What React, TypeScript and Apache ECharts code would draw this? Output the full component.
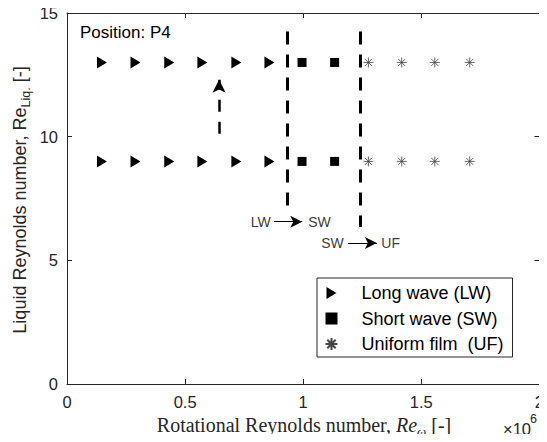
import React, { useEffect, useRef } from "react";
import * as echarts from "echarts";

// Rotational Reynolds number (x 10^6) for each regime
const lwRe: number[] = [0.148, 0.29, 0.433, 0.573, 0.717, 0.857];
const swRe: number[] = [0.995, 1.133];
const ufRe: number[] = [1.276, 1.417, 1.557, 1.705];
// Liquid Reynolds numbers tested
const liqRe: number[] = [13, 9];

// Transition boundaries (x) and their vertical extent (y from, y to)
const boundaryX: number[] = [0.932, 1.241];
const boundaryY: [number, number][] = [
  [7.05, 14.25],
  [6.35, 14.25],
];
// Dashed arrow showing increasing liquid Reynolds number
const upArrow: [number, number][] = [
  [0.644, 10.12],
  [0.644, 12.3],
];
// Transition annotation labels and arrows
const annotTexts: { name: string; value: [number, number] }[] = [
  { name: "LW", value: [0.82, 6.56] },
  { name: "SW", value: [1.069, 6.56] },
  { name: "SW", value: [1.124, 5.7] },
  { name: "UF", value: [1.37, 5.7] },
];
const annotArrows: [number, number][][] = [
  [
    [0.876, 6.56],
    [0.996, 6.56],
  ],
  [
    [1.19, 5.7],
    [1.312, 5.7],
  ],
];

const xTicks = { min: 0, max: 2, interval: 0.5 };
const yTicks = { min: 0, max: 15, interval: 5 };

const SANS = "Liberation Sans";
const SERIF = "Liberation Serif";
const AX = "#262626";

type Part = { text: string; family: string; size: number; italic?: boolean; sub?: boolean };
const xTitle: Part[] = [
  { text: "Rotational Reynolds number, ", family: SERIF, size: 20 },
  { text: "Re", family: SERIF, size: 20, italic: true },
  { text: "ω", family: SERIF, size: 13, italic: true, sub: true },
  { text: " [-]", family: SERIF, size: 20 },
];
const yTitle: Part[] = [
  { text: "Liquid Reynolds number, Re", family: SANS, size: 18 },
  { text: "Liq.", family: SANS, size: 12.5, sub: true },
  { text: " [-]", family: SANS, size: 18 },
];

function pairs(xs: number[], ys: number[]): number[][] {
  const out: number[][] = [];
  ys.forEach((y) => xs.forEach((x) => out.push([x, y])));
  return out;
}

function titleGroup(parts: Part[], cx: number, cy: number, rotation: number) {
  const ctx = document.createElement("canvas").getContext("2d")!;
  const widths = parts.map((p) => {
    ctx.font = `${p.italic ? "italic " : ""}${p.size}px "${p.family}"`;
    return ctx.measureText(p.text.replace(/ /g, "\u00a0")).width;
  });
  const total = widths.reduce((a, b) => a + b, 0);
  let x = -total / 2;
  const children = parts.map((p, i) => {
    const el = {
      type: "text",
      x,
      y: p.sub ? 6 : 0,
      style: {
        text: p.text.replace(/ /g, "\u00a0"),
        fontFamily: p.family,
        fontSize: p.size,
        fontStyle: p.italic ? "italic" : "normal",
        fill: AX,
        align: "left",
        verticalAlign: "middle",
      },
    };
    x += widths[i];
    return el;
  });
  return { type: "group", x: cx, y: cy, rotation, children };
}

export default function App() {
  const ref = useRef<HTMLDivElement>(null);
  useEffect(() => {
    if (!ref.current) return;
    const chart = echarts.init(ref.current, undefined, { renderer: "svg" });
    const axisCommon = {
      type: "value" as const,
      axisLine: { show: true, onZero: false, lineStyle: { color: AX, width: 1 } },
      axisTick: { show: true, inside: true, length: 5, lineStyle: { color: AX } },
      splitLine: { show: false },
    };
    chart.setOption({
      animation: false,
      backgroundColor: "#fff",
      grid: { left: 67, right: 5, top: 13, bottom: 58 },
      xAxis: [
        {
          ...axisCommon,
          ...xTicks,
          position: "bottom",
          axisLabel: { color: AX, fontSize: 16.5, fontFamily: SANS, margin: 9 },
        },
        {
          ...axisCommon,
          ...xTicks,
          position: "top",
          axisLabel: { show: false },
        },
      ],
      yAxis: [
        {
          ...axisCommon,
          ...yTicks,
          position: "left",
          axisLabel: { color: AX, fontSize: 16.5, fontFamily: SANS, margin: 9 },
        },
        {
          ...axisCommon,
          ...yTicks,
          position: "right",
          axisLabel: { show: false },
        },
      ],
      legend: {
        orient: "vertical",
        left: 317,
        top: 278,
        padding: [6, 9, 4, 6],
        itemGap: 7.5,
        itemWidth: 50,
        itemHeight: 12,
        backgroundColor: "#fff",
        borderColor: AX,
        borderWidth: 1,
        borderRadius: 0,
        data: ["Long wave (LW)", "Short wave (SW)", "Uniform film  (UF)"],
        textStyle: { fontFamily: SANS, fontSize: 18, color: "#000" },
      },
      graphic: [
        {
          type: "text",
          left: 80,
          top: 24,
          style: { text: "Position: P4", fontFamily: SANS, fontSize: 17, fill: "#000" },
        },
        titleGroup(xTitle, 304, 425, 0),
        titleGroup(yTitle, 20, 200, Math.PI / 2),
        {
          type: "text",
          left: 503,
          top: 420,
          style: { text: "×10", fontFamily: SANS, fontSize: 16.5, fill: AX },
        },
        {
          type: "text",
          left: 530,
          top: 412,
          style: { text: "6", fontFamily: SANS, fontSize: 12.5, fill: AX },
        },
      ],
      series: [
        {
          name: "Long wave (LW)",
          type: "scatter",
          symbol: "path://M0,0L10,6L0,12Z",
          symbolSize: [10, 12],
          itemStyle: { color: "#000", opacity: 1 },
          data: pairs(lwRe, liqRe),
          z: 5,
        },
        {
          name: "Short wave (SW)",
          type: "scatter",
          symbol: "path://M0,0L10,0L10,10L0,10Z",
          symbolSize: 9,
          itemStyle: { color: "#000", opacity: 1 },
          data: pairs(swRe, liqRe),
          z: 5,
        },
        {
          name: "Uniform film  (UF)",
          type: "scatter",
          symbol: "path://M5,0L5,10M0,5L10,5M1.5,1.5L8.5,8.5M1.5,8.5L8.5,1.5",
          symbolSize: 10,
          itemStyle: { color: "none", borderColor: "#444", borderWidth: 0.8, opacity: 1 },
          data: pairs(ufRe, liqRe),
          z: 5,
        },
        {
          name: "boundaries",
          type: "scatter",
          data: [],
          silent: true,
          markLine: {
            silent: true,
            symbol: ["none", "none"],
            label: { show: false },
            lineStyle: { color: "#000", width: 3, type: [13, 10] },
            data: boundaryX.map((x, i) => [
              { coord: [x, boundaryY[i][1]] },
              { coord: [x, boundaryY[i][0]] },
            ]),
          },
        },
        {
          name: "increase",
          type: "scatter",
          data: [],
          silent: true,
          markLine: {
            silent: true,
            symbol: ["none", "arrow"],
            symbolSize: [10, 13],
            label: { show: false },
            lineStyle: { color: "#000", width: 2.5, type: [12, 10] },
            data: [[{ coord: upArrow[0] }, { coord: upArrow[1] }]],
          },
        },
        {
          name: "transition arrows",
          type: "scatter",
          data: [],
          silent: true,
          markLine: {
            silent: true,
            symbol: ["none", "arrow"],
            symbolSize: [9, 12],
            label: { show: false },
            lineStyle: { color: "#000", width: 1, type: "solid" },
            data: annotArrows.map((a) => [{ coord: a[0] }, { coord: a[1] }]),
          },
        },
        {
          name: "transition labels",
          type: "scatter",
          silent: true,
          symbolSize: 0,
          data: annotTexts,
          label: {
            show: true,
            position: "inside",
            formatter: (p: any) => p.name,
            fontFamily: SANS,
            fontSize: 14,
            color: "#000",
          },
        },
      ],
    });
    return () => chart.dispose();
  }, []);
  return <div ref={ref} style={{ width: 547, height: 442, margin: -8 }} />;
}
